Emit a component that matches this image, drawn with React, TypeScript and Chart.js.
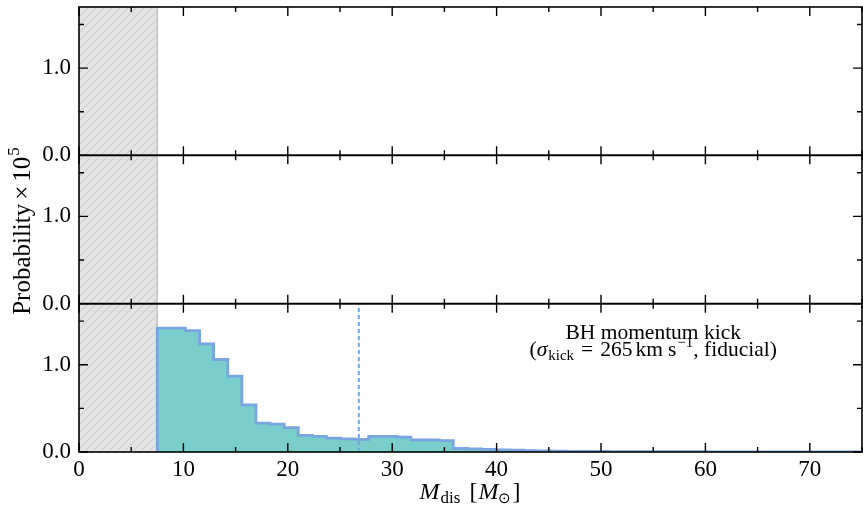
import React, { useEffect, useRef } from 'react';
import { Chart, registerables } from 'chart.js';

Chart.register(...registerables);

// ---------------- data ----------------
const binEdges = [
  7.5, 8.85, 10.2, 11.55, 12.9, 14.25, 15.6, 16.95, 18.3, 19.65, 21.0, 22.35, 23.7, 25.05,
  26.4, 27.75, 29.1, 30.45, 31.8, 33.15, 34.5, 35.85, 37.2, 38.55, 39.9, 41.25, 42.6, 43.95,
  45.3, 46.65, 48.0, 49.35, 50.7, 52.05, 53.4, 54.75, 56.1, 57.45, 58.8, 60.15, 61.5, 62.85,
  64.2, 65.55, 66.9, 68.25, 69.6, 70.95, 72.3, 73.65, 75.0,
];
const kickProbability = [
  1.42, 1.42, 1.39, 1.24, 1.06, 0.87, 0.54, 0.33, 0.32, 0.28,
  0.19, 0.18, 0.16, 0.15, 0.145, 0.18, 0.18, 0.17, 0.14, 0.14,
  0.13, 0.04, 0.035, 0.03, 0.025, 0.02, 0.015, 0.012, 0.01, 0.008,
  0.007, 0.006, 0.005, 0.005, 0.004, 0.004, 0.003, 0.003, 0.003, 0.002,
  0.002, 0.002, 0.002, 0.001, 0.001, 0.001, 0.001, 0.001, 0.001, 0.001,
];
const excludedMax = 7.5; // hatched (excluded) mass range 0 .. 7.5
const medianMass = 26.8; // dashed vertical line
const xMin = 0;
const xMax = 75;
const yMax = 1.7;
const xTickLabels = [0, 10, 20, 30, 40, 50, 60, 70];
const xTickMarks = [0, 5, 10, 15, 20, 25, 30, 35, 40, 45, 50, 55, 60, 65, 70, 75];
const yTickLabels = [0, 1];
const yTickMarks = [0, 0.5, 1, 1.5];
const panelIds = ['yTop', 'yMid', 'yBot'];
const annotationLine1 = 'BH momentum kick';

// ---------------- styles ----------------
const SERIF = '"Liberation Serif", "Times New Roman", serif';
const FILL = '#79cdca';
const EDGE = '#79a5e0';
const DASH = '#6fa8dc';

type Seg = { t: string; font: string; dy?: number; gap?: number };

function drawRich(ctx: CanvasRenderingContext2D, segs: Seg[], cx: number, baseline: number) {
  let total = 0;
  const widths = segs.map((s) => {
    ctx.font = s.font;
    const w = ctx.measureText(s.t).width;
    total += w + (s.gap || 0);
    return w;
  });
  let x = cx - total / 2;
  ctx.textAlign = 'left';
  ctx.textBaseline = 'alphabetic';
  segs.forEach((s, i) => {
    x += s.gap || 0;
    ctx.font = s.font;
    ctx.fillText(s.t, x, baseline + (s.dy || 0));
    x += widths[i];
  });
}

function makeHatch(): CanvasPattern | string {
  const c = document.createElement('canvas');
  const n = 8;
  c.width = n;
  c.height = n;
  const g = c.getContext('2d');
  if (!g) return '#e3e3e3';
  g.fillStyle = '#e4e4e4';
  g.fillRect(0, 0, n, n);
  g.strokeStyle = '#cfcfcf';
  g.lineWidth = 1.2;
  g.beginPath();
  g.moveTo(0, n);
  g.lineTo(n, 0);
  g.moveTo(-1, 1);
  g.lineTo(1, -1);
  g.moveTo(n - 1, n + 1);
  g.lineTo(n + 1, n - 1);
  g.stroke();
  const p = g.createPattern(c, 'repeat');
  return p || '#e3e3e3';
}

const framePlugin = {
  id: 'framesAndText',
  afterDraw(chart: any) {
    const ctx: CanvasRenderingContext2D = chart.ctx;
    const xs = chart.scales.x;
    ctx.save();
    ctx.strokeStyle = '#000';
    for (const id of panelIds) {
      const ys = chart.scales[id];
      const L = xs.left;
      const R = xs.right;
      const T = ys.top;
      const B = ys.bottom;
      ctx.lineWidth = 1.4;
      ctx.beginPath();
      for (const v of xTickMarks) {
        const len = v % 10 === 0 ? 9 : 5;
        const px = xs.getPixelForValue(v);
        ctx.moveTo(px, B);
        ctx.lineTo(px, B - len);
        ctx.moveTo(px, T);
        ctx.lineTo(px, T + len);
      }
      for (const v of yTickMarks) {
        const len = v % 1 === 0 ? 9 : 5;
        const py = ys.getPixelForValue(v);
        ctx.moveTo(L, py);
        ctx.lineTo(L + len, py);
        ctx.moveTo(R, py);
        ctx.lineTo(R - len, py);
      }
      ctx.stroke();
      ctx.lineWidth = 1.6;
      ctx.strokeRect(L, T, R - L, B - T);
    }

    ctx.fillStyle = '#000';
    // annotation in bottom panel
    const yb = chart.scales.yBot;
    const ax = xs.getPixelForValue(55);
    drawRich(ctx, [{ t: annotationLine1, font: `21.5px ${SERIF}` }], ax, yb.getPixelForValue(1.3));
    drawRich(
      ctx,
      [
        { t: '(', font: `21.5px ${SERIF}` },
        { t: 'σ', font: `italic 21.5px ${SERIF}` },
        { t: 'kick', font: `15px ${SERIF}`, dy: 4, gap: 1 },
        { t: '=', font: `21.5px ${SERIF}`, gap: 7 },
        { t: '265', font: `21.5px ${SERIF}`, gap: 7 },
        { t: 'km', font: `21.5px ${SERIF}`, gap: 3 },
        { t: 's', font: `21.5px ${SERIF}`, gap: 5 },
        { t: '−1', font: `15px ${SERIF}`, dy: -9, gap: 1 },
        { t: ', fiducial)', font: `21.5px ${SERIF}` },
      ],
      ax,
      yb.getPixelForValue(1.1)
    );

    // x title
    drawRich(
      ctx,
      [
        { t: 'M', font: `italic 24px ${SERIF}` },
        { t: 'dis', font: `17px ${SERIF}`, dy: 4, gap: 1 },
        { t: '[', font: `24px ${SERIF}`, gap: 9 },
        { t: 'M', font: `italic 24px ${SERIF}`, gap: 1 },
        { t: '⊙', font: `15px ${SERIF}`, dy: 4 },
        { t: ']', font: `24px ${SERIF}`, gap: 1 },
      ],
      470,
      499
    );

    // y title
    ctx.save();
    ctx.translate(30, 231);
    ctx.rotate(-Math.PI / 2);
    drawRich(
      ctx,
      [
        { t: 'Probability', font: `25px ${SERIF}` },
        { t: '×', font: `25px ${SERIF}`, gap: 4 },
        { t: '10', font: `25px ${SERIF}`, gap: 4 },
        { t: '5', font: `17px ${SERIF}`, dy: -11, gap: 1 },
      ],
      0,
      0
    );
    ctx.restore();
    ctx.restore();
  },
};

function yScale(weight: number) {
  return {
    type: 'linear',
    position: 'left',
    stack: 'panels',
    stackWeight: 1,
    weight,
    min: 0,
    max: yMax,
    afterBuildTicks: (s: any) => {
      s.ticks = yTickLabels.map((v) => ({ value: v }));
    },
    afterFit: (s: any) => {
      s.width = 79;
      s.paddingTop = 0;
      s.paddingBottom = 0;
      s.paddingLeft = 0;
      s.paddingRight = 0;
    },
    ticks: {
      callback: (v: any) => Number(v).toFixed(1),
      font: { family: SERIF, size: 23 },
      color: '#000',
      padding: 8,
    },
    grid: { display: false, drawTicks: false },
    border: { display: false },
  };
}

export default function App() {
  const ref = useRef<HTMLCanvasElement | null>(null);
  useEffect(() => {
    if (!ref.current) return;
    const hatch = makeHatch();
    const histPoints = [{ x: binEdges[0], y: 0 }].concat(
      kickProbability.map((h, i) => ({ x: binEdges[i + 1], y: h }))
    );
    const hatchSets = panelIds.map((id) => ({
      type: 'line',
      yAxisID: id,
      data: [
        { x: xMin, y: yMax },
        { x: excludedMax, y: yMax },
        { x: excludedMax, y: 0 },
      ],
      borderColor: '#c4c4c4',
      borderWidth: 1,
      backgroundColor: hatch,
      fill: 'origin',
      pointRadius: 0,
      order: 3,
    }));
    const chart = new Chart(ref.current, {
      type: 'line',
      data: {
        datasets: [
          ...hatchSets,
          {
            type: 'line',
            yAxisID: 'yBot',
            data: histPoints,
            stepped: 'after',
            borderColor: EDGE,
            borderWidth: 2.8,
            backgroundColor: FILL,
            fill: 'origin',
            pointRadius: 0,
            order: 2,
          },
          {
            type: 'line',
            yAxisID: 'yBot',
            data: [
              { x: medianMass, y: 0 },
              { x: medianMass, y: yMax },
            ],
            borderColor: DASH,
            borderWidth: 2,
            borderDash: [4, 3],
            fill: false,
            pointRadius: 0,
            order: 1,
          },
        ] as any,
      },
      options: {
        animation: false,
        responsive: false,
        devicePixelRatio: 1,
        parsing: false as any,
        normalized: true,
        layout: { padding: { top: 7, right: 1, left: 0, bottom: 0 } },
        plugins: { legend: { display: false }, tooltip: { enabled: false } },
        scales: {
          x: {
            type: 'linear',
            position: 'bottom',
            min: xMin,
            max: xMax,
            afterBuildTicks: (s: any) => {
              s.ticks = xTickLabels.map((v) => ({ value: v }));
            },
            afterFit: (s: any) => {
              s.height = 55;
              s.paddingLeft = 0;
              s.paddingRight = 0;
              s.paddingTop = 0;
              s.paddingBottom = 0;
            },
            ticks: {
              font: { family: SERIF, size: 23 },
              color: '#000',
              padding: 4,
              maxRotation: 0,
              autoSkip: false,
              callback: (v: any) => String(v),
            },
            grid: { display: false, drawTicks: false },
            border: { display: false },
          },
          yTop: yScale(3),
          yMid: yScale(2),
          yBot: yScale(1),
        } as any,
      },
      plugins: [framePlugin],
    } as any);
    return () => chart.destroy();
  }, []);
  return (
    <div style={{ position: 'absolute', left: 0, top: 0, width: 863, height: 507, background: '#fff' }}>
      <canvas ref={ref} width={863} height={507} style={{ display: 'block' }} />
    </div>
  );
}
